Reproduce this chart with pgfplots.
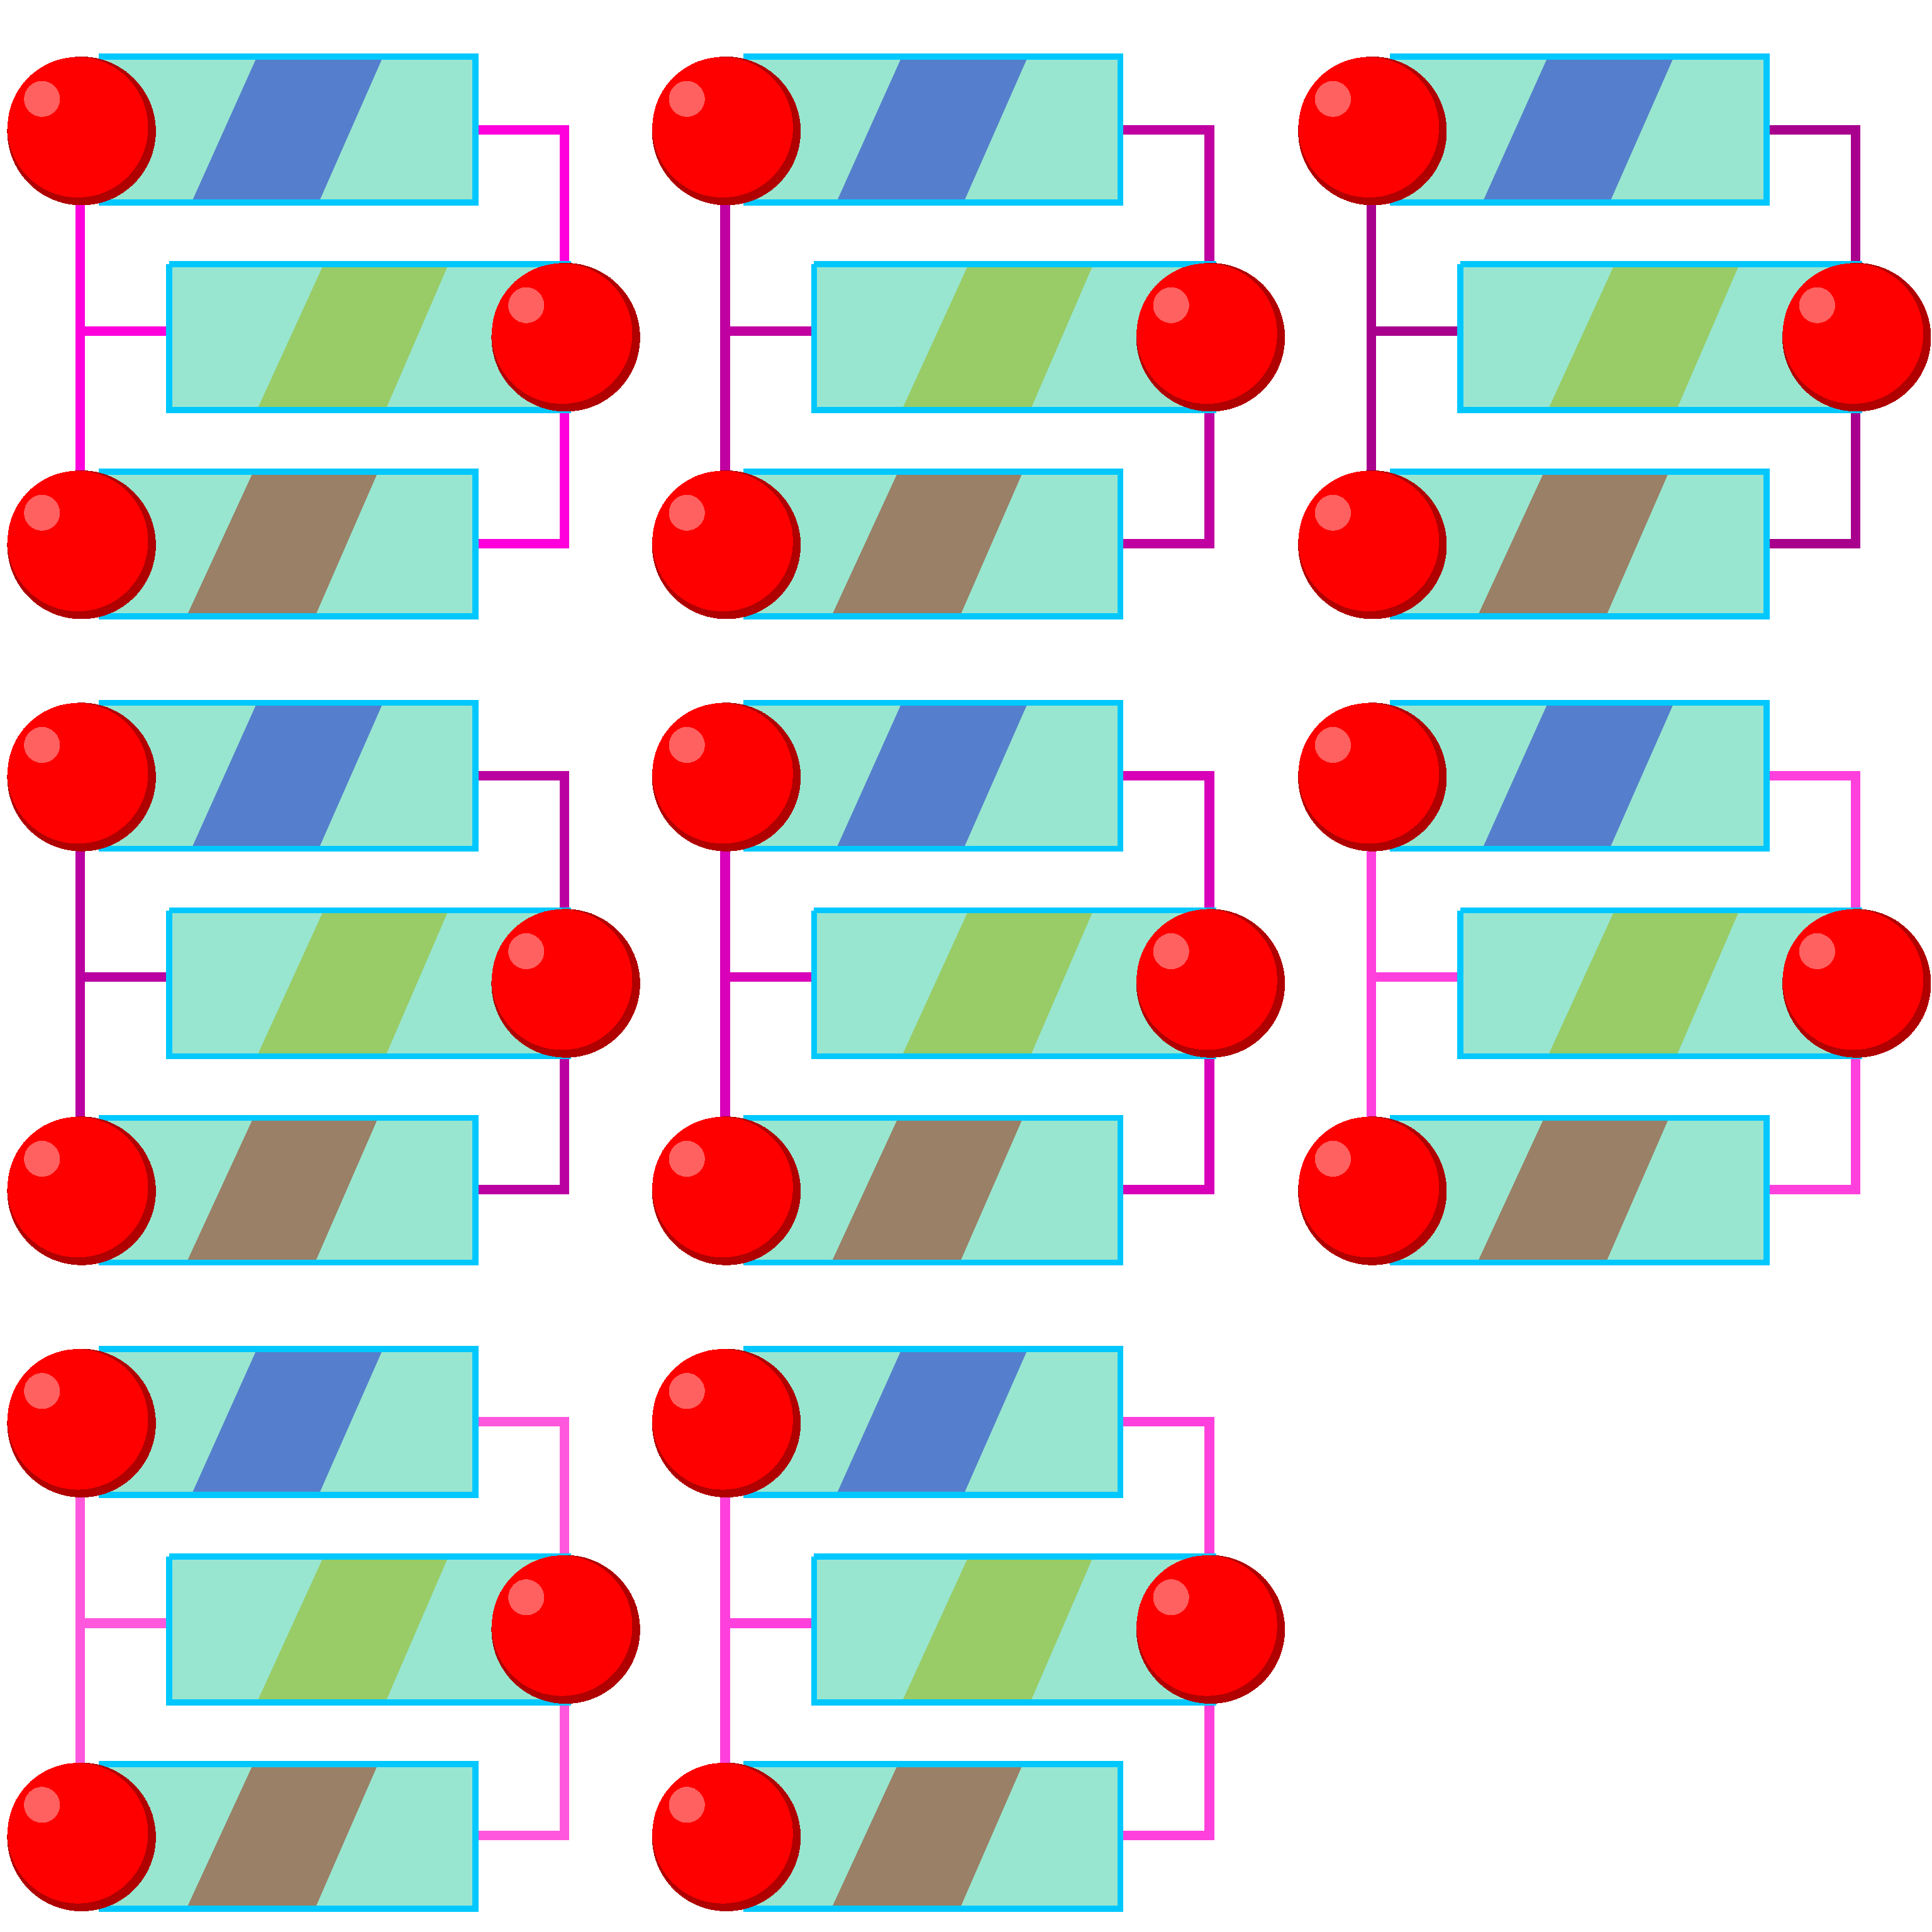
\documentclass[border=0pt]{standalone}
\usepackage{pgfplots}
\pgfplotsset{compat=1.18}
\definecolor{boxf}{HTML}{98E6D0}
\definecolor{boxd}{HTML}{00C8FF}
\definecolor{sb}{HTML}{557FCC}
\definecolor{sg}{HTML}{99CC66}
\definecolor{sr}{HTML}{9A8066}
\definecolor{dk}{HTML}{B00000}
\definecolor{hl}{HTML}{FF6060}
\definecolor{pa}{HTML}{FF00DD}
\definecolor{pb}{HTML}{C000A0}
\definecolor{pc}{HTML}{A8008C}
\definecolor{pd}{HTML}{BA00A0}
\definecolor{pe}{HTML}{D800B8}
\definecolor{pf}{HTML}{FF40DD}
\definecolor{pg}{HTML}{FF58DD}
\newcommand\T[4]{\addplot[#3,table/row sep=\\,table/header=false,table/x expr=\thisrowno{0}+#1,table/y expr=\thisrowno{1}+#2] table {#4};}
\newcommand\tile[3]{%
 \T{#1}{#2}{draw=#3,line width=1.4pt}{65 164\\65 382\\};
 \T{#1}{#2}{draw=#3,line width=1.4pt}{65 268\\137 268\\};
 \T{#1}{#2}{draw=#3,line width=1.4pt}{385 105\\457 105\\457 214\\};
 \T{#1}{#2}{draw=#3,line width=1.4pt}{457 332\\457 440\\385 440\\};
 \T{#1}{#2}{fill=boxf,draw=none}{80 46\\385 46\\385 164\\80 164\\};
 \T{#1}{#2}{fill=sb,draw=none}{208 46\\310 46\\258 164\\155 164\\};
 \T{#1}{#2}{draw=boxd,line width=0.9pt}{80 46\\385 46\\385 164\\80 164\\};
 \T{#1}{#2}{fill=boxf,draw=none}{137 214\\460 214\\460 332\\137 332\\};
 \T{#1}{#2}{fill=sg,draw=none}{262 214\\363 214\\312 332\\208 332\\};
 \T{#1}{#2}{draw=boxd,line width=0.9pt}{137 214\\460 214\\460 332\\137 332\\137 214\\};
 \T{#1}{#2}{fill=boxf,draw=none}{80 382\\385 382\\385 499\\80 499\\};
 \T{#1}{#2}{fill=sr,draw=none}{205 382\\306 382\\255 499\\151 499\\};
 \T{#1}{#2}{draw=boxd,line width=0.9pt}{80 382\\385 382\\385 499\\80 499\\};
 \T{#1}{#2}{dk,only marks,mark=*,mark size=10.9pt,mark options={draw=dk,fill=dk,line width=0pt}}{66 106\\458 273\\66 441\\};
 \T{#1}{#2}{red,only marks,mark=*,mark size=10.3pt,mark options={draw=red,fill=red,line width=0pt}}{63 103\\455 270\\63 438\\};
 \T{#1}{#2}{hl,only marks,mark=*,mark size=2.6pt,mark options={draw=hl,fill=hl,line width=0pt}}{34 80\\426 247\\34 415\\};
}
\begin{document}
\begin{tikzpicture}
\begin{axis}[width=10cm,height=10cm,scale only axis,xmin=0,xmax=1564,ymin=0,ymax=1564,y dir=reverse,axis lines=none,clip=false]
\addplot[draw=none,forget plot] coordinates {(0,0) (1564,1564)};
\tile{0}{0}{pa}
\tile{522}{0}{pb}
\tile{1045}{0}{pc}
\tile{0}{523}{pd}
\tile{522}{523}{pe}
\tile{1045}{523}{pf}
\tile{0}{1046}{pg}
\tile{522}{1046}{pf}
\end{axis}
\end{tikzpicture}
\end{document}
